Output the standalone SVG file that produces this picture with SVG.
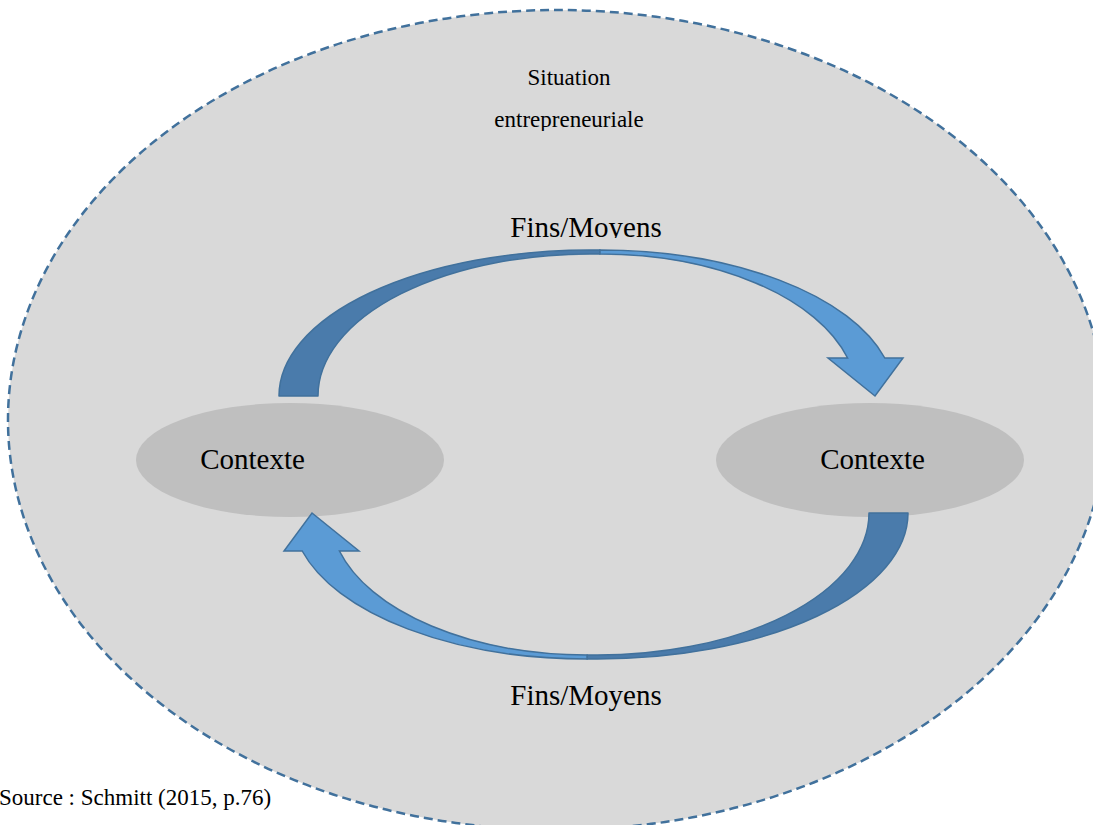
<svg xmlns="http://www.w3.org/2000/svg" width="1093" height="825" viewBox="0 0 1093 825">
  <style>
    text { font-family: "Liberation Serif", "Times New Roman", "DejaVu Serif", serif; fill: #000; }
    .outer { fill: #d9d9d9; stroke: #41719c; stroke-width: 2.5; stroke-dasharray: 9 5; }
    .ctx { fill: #bfbfbf; stroke: none; }
    .back { fill: #4a7bab; stroke: #41719c; stroke-width: 1.5; stroke-linejoin: round; }
    .front { fill: #5b9bd5; stroke: #41719c; stroke-width: 1.5; stroke-linejoin: miter; }
  </style>
  <defs>
    <!-- curved arrow: dark rising band + light descending band with head -->
    <g id="curved-arrow">
      <path class="back" d="M279,396 A311,146 0 0 1 590,250 L600,250 L600,254 A272,142 0 0 0 318,396 Z"/>
      <path class="front" d="M600,250 A295,146 0 0 1 884.8,358 L903,358 L875,396 L828,358 L847.6,358 A257,142 0 0 0 600,254 Z"/>
    </g>
    <clipPath id="clip-top-label"><rect x="450" y="190" width="300" height="48"/></clipPath>
    <clipPath id="clip-situation"><rect x="450" y="50" width="250" height="81"/></clipPath>
  </defs>

  <rect x="0" y="0" width="1093" height="825" fill="#ffffff"/>

  <g id="situation">
    <ellipse class="outer" cx="557" cy="420" rx="549" ry="410"/>
    <g clip-path="url(#clip-situation)">
      <text x="569" y="85" font-size="23" text-anchor="middle" font-family="Liberation Serif, serif">Situation</text>
      <text x="569" y="127" font-size="23" text-anchor="middle" font-family="Liberation Serif, serif">entrepreneuriale</text>
    </g>
  </g>

  <g id="contexte-left">
    <ellipse class="ctx" cx="290" cy="460" rx="154" ry="57"/>
    <text x="252.5" y="469" font-size="29" text-anchor="middle" font-family="Liberation Serif, serif">Contexte</text>
  </g>

  <g id="contexte-right">
    <ellipse class="ctx" cx="870" cy="460" rx="154" ry="57"/>
    <text x="872.5" y="469" font-size="29" text-anchor="middle" font-family="Liberation Serif, serif">Contexte</text>
  </g>

  <g id="connectors">
    <use href="#curved-arrow"/>
    <use href="#curved-arrow" transform="rotate(180 593.5 454.5)"/>
    <g clip-path="url(#clip-top-label)">
      <text x="586" y="237" font-size="29" text-anchor="middle" font-family="Liberation Serif, serif">Fins/Moyens</text>
    </g>
    <text x="586" y="705" font-size="29" text-anchor="middle" font-family="Liberation Serif, serif">Fins/Moyens</text>
  </g>

  <text x="-1" y="805" font-size="23" font-family="Liberation Serif, serif">Source : Schmitt (2015, p.76)</text>
</svg>
